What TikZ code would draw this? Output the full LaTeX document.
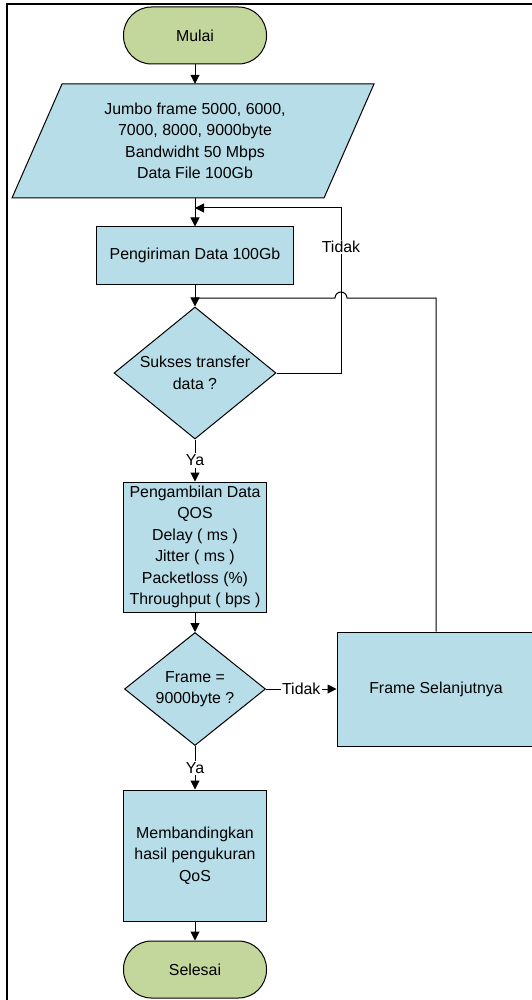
\documentclass[tikz,border=0pt]{standalone}
\usepackage{fontspec}
\setmainfont{Liberation Sans}
\usetikzlibrary{shapes.geometric,arrows.meta}
\definecolor{procblue}{RGB}{183,221,232}
\definecolor{termgreen}{RGB}{195,214,155}
\begin{document}
\begin{tikzpicture}[x=1pt,y=1pt,
  every node/.style={font=\fontsize{15.9}{21.5}\selectfont, align=center},
  base/.style={draw=black, line width=1pt},
  terminal/.style={base, fill=termgreen, rounded corners=28pt,
    minimum width=143pt, minimum height=57pt, inner sep=0pt},
  process/.style={base, fill=procblue, rectangle, inner sep=0pt},
  decision/.style={base, fill=procblue, diamond, inner sep=0pt},
  flow/.style={line width=1pt, -{Triangle[length=9pt,width=9pt]}},
  plain/.style={line width=1pt},
  lbl/.style={fill=white, inner sep=1.5pt}
]
\clip (0,0) rectangle (532,-1000);
\fill[white] (0,0) rectangle (532,-1000);
% page frame
\draw[line width=1.8pt] (7,-4) rectangle (560,-1030);

% input parallelogram
\filldraw[base, fill=procblue] (62,-84) -- (374,-84) -- (324,-198) -- (12,-198) -- cycle;

\node[terminal] (start) at (195,-35.5) {Mulai};
\node[minimum width=300pt, minimum height=114pt, inner sep=0pt] (input) at (195,-141)
  {Jumbo frame 5000, 6000,\\7000, 8000, 9000byte\\Bandwidht 50 Mbps\\Data File 100Gb};
\node[process, minimum width=197pt, minimum height=57pt] (send) at (195,-255.5) {Pengiriman Data 100Gb};
\node[decision, minimum width=162pt, minimum height=132pt,
  label={center:{Sukses transfer\\data ?}}] (ok) at (195,-373) {};
\node[process, minimum width=143pt, minimum height=130pt] (qos) at (195,-547)
  {Pengambilan Data\\QOS\\Delay ( ms )\\Jitter ( ms )\\Packetloss (\%)\\Throughput ( bps )};
\node[decision, minimum width=141pt, minimum height=113pt,
  label={center:{Frame =\\9000byte ?}}] (last) at (195,-689) {};
\node[process, minimum width=198pt, minimum height=114pt] (next) at (436,-689) {Frame Selanjutnya};
\node[process, minimum width=143pt, minimum height=131pt] (cmp) at (195,-855.5)
  {Membandingkan\\hasil pengukuran\\QoS};
\node[terminal] (end) at (195,-969.5) {Selesai};

% corner points of the return paths
\coordinate (retTop) at (341,-208);
\coordinate (joinR) at (436,-298);

% main flow
\draw[flow] (start) -- (input);
\draw[flow] (input) -- (send);
\draw[flow] (send) -- (ok);
\draw[flow] (ok) -- node[lbl] {Ya} (qos);
\draw[flow] (qos) -- (last);
\draw[flow] (last) -- node[lbl] {Tidak} (next);
\draw[flow] (last) -- node[lbl] {Ya} (cmp);
\draw[flow] (cmp) -- (end);

% retry loop
\draw[flow] (ok.east) -| (retTop) -- (send.north |- retTop);
\node[lbl] (retry) at (341,-247) {Tidak};

% next frame loop, hopping over the retry line
\draw[plain] (next.north) -- (joinR) -- (347,-298) arc[start angle=0, end angle=180, radius=6pt]
  -- (send.south |- joinR);
\end{tikzpicture}
\end{document}
